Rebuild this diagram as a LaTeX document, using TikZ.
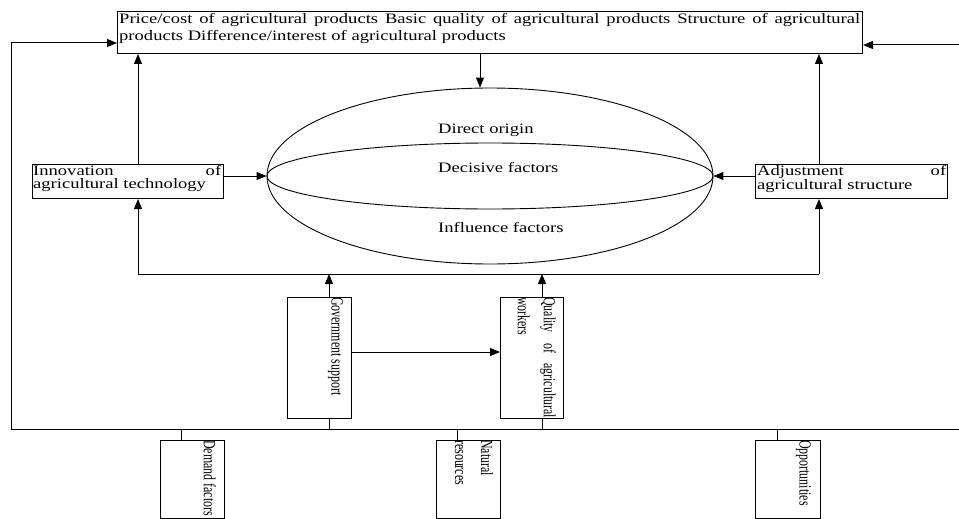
\documentclass[tikz,border=0pt]{standalone}
\usepackage{fontspec}
\setmainfont{Liberation Serif}
\newfontfamily\wfont{Liberation Serif}[FakeStretch=1.29]
\newfontfamily\nfont{Liberation Serif}[FakeStretch=0.70]
\usetikzlibrary{arrows.meta,shapes.geometric}
\newcommand\myhsz{\wfont\fontsize{14.4}{17}\selectfont\hyphenpenalty=10000\exhyphenpenalty=10000}
\newcommand\myhszb{\wfont\fontsize{14.4}{13}\selectfont\hyphenpenalty=10000\exhyphenpenalty=10000}
\newcommand\myvsz{\nfont\fontsize{17}{26}\selectfont\hyphenpenalty=10000\exhyphenpenalty=10000}
\begin{document}
\begin{tikzpicture}[x=1pt,y=-1pt,
  box/.style={draw, line width=1pt, inner sep=0pt, anchor=north west},
  conn/.style={line width=1pt},
  arr/.style={line width=1pt, -{Triangle[length=10pt,width=8pt]}},
  htxt/.style={inner sep=0pt, anchor=north west, font=\myhszb, align=justify},
  vtxt/.style={inner sep=0pt, anchor=north west, rotate=-90, font=\myvsz, align=justify},
  etxt/.style={inner sep=0pt, anchor=base west, font=\myhsz}]
\useasboundingbox (0,0) rectangle (959,519);

% boxes
\node[box, minimum width=745pt, minimum height=42pt] (top) at (117,11) {};
\node[box, minimum width=191pt, minimum height=34pt] (lb) at (32,164) {};
\node[box, minimum width=192pt, minimum height=34pt] (rb) at (755,164) {};
\node[box, minimum width=64pt, minimum height=121pt] (gb) at (287,297) {};
\node[box, minimum width=63pt, minimum height=121pt] (qb) at (500,297) {};
\node[box, minimum width=64pt, minimum height=78pt] (db) at (160,440) {};
\node[box, minimum width=64pt, minimum height=78pt] (nb) at (436,440) {};
\node[box, minimum width=65pt, minimum height=78pt] (ob) at (755,440) {};

% ellipse
\node[draw, ellipse, line width=0.9pt, minimum width=446pt, minimum height=176pt, inner sep=0pt] (ell) at (490,176) {};
\draw[line width=0.9pt] (ell.center) ellipse [x radius=223pt, y radius=33pt];

% texts
\node[htxt, font=\myhsz, text width=741pt] (toptxt) at (119,13) {Price/cost of agricultural products Basic quality of agricultural products Structure of agricultural products Difference/interest of agricultural products};
\node[htxt, text width=188pt] (lbtxt) at (33,165) {Innovation of\linebreak agricultural technology};
\node[htxt, text width=189pt] (rbtxt) at (757,165) {Adjustment of\linebreak agricultural structure};
\node[etxt] (e1) at (438,133) {Direct origin};
\node[etxt] (e2) at (438,172) {Decisive factors};
\node[etxt] (e3) at (438,232) {Influence factors};
\node[vtxt, text width=125pt] (gtxt) at ([xshift=-9pt]gb.north east) {Government support};
\node[vtxt, text width=121pt] (qtxt) at ([xshift=-8pt]qb.north east) {Quality of agricultural workers};
\node[vtxt, text width=82pt] (dtxt) at ([xshift=-9pt]db.north east) {Demand factors};
\node[vtxt, text width=76pt] (ntxt) at ([xshift=-8pt]nb.north east) {Natural resources};
\node[vtxt, text width=82pt] (otxt) at ([xshift=-10pt]ob.north east) {Opportunities};

% connectors
\coordinate (c1) at (138,274);
\coordinate (c2) at (819,274);
\draw[conn] (c1) -- (c2);
\draw[arr] (c1) -- (c1 |- lb.south);
\draw[arr] (c2) -- (c2 |- rb.south);
\draw[arr] (c1 |- lb.north) -- (c1 |- top.south);
\draw[arr] (c2 |- rb.north) -- (c2 |- top.south);
\draw[arr] (lb.east |- ell.west) -- (ell.west);
\draw[arr] (rb.west |- ell.east) -- (ell.east);
\coordinate (tc) at (480,0);
\draw[arr] (tc |- top.south) -- (tc |- ell.north);

\coordinate (g1) at (329,274);
\coordinate (q1) at (542,274);
\draw[arr] (g1 |- gb.north) -- (g1);
\draw[arr] (q1 |- qb.north) -- (q1);
\coordinate (m) at (0,352);
\draw[arr] (gb.east |- m) -- (qb.west |- m);

\coordinate (bl) at (11,429);
\coordinate (br) at (959,429);
\draw[conn] (bl) -- (br);
\coordinate (le) at (11,43);
\draw[arr] (bl) -- (le) -- (le -| top.west);
\coordinate (re) at (959,45);
\draw[arr] (re) -- (re -| top.east);
\draw[conn] (g1 |- gb.south) -- (g1 |- bl);
\draw[conn] (q1 |- qb.south) -- (q1 |- bl);
\coordinate (d1) at (181,429);
\coordinate (n1) at (457,429);
\coordinate (o1) at (777,429);
\draw[conn] (d1) -- (d1 |- db.north);
\draw[conn] (n1) -- (n1 |- nb.north);
\draw[conn] (o1) -- (o1 |- ob.north);
\end{tikzpicture}
\end{document}
